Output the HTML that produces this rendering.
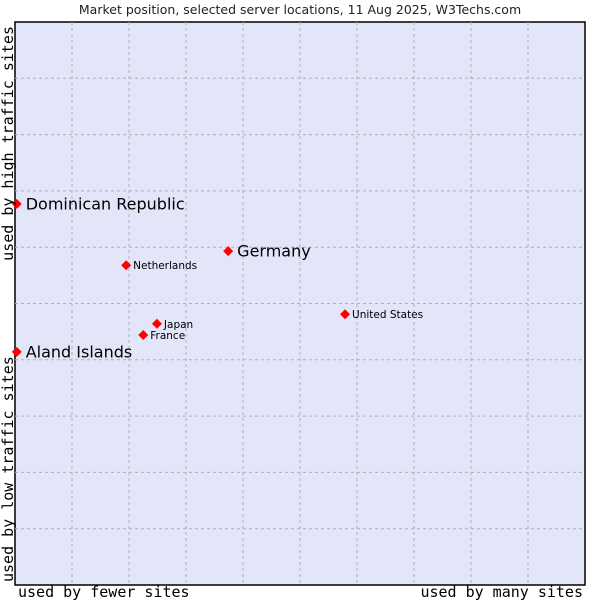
<!DOCTYPE html>
<html><head><meta charset="utf-8"><style>
body{margin:0;background:#fff;}
svg{display:block;}
</style></head><body>
<svg id="chart" width="600" height="600" xmlns="http://www.w3.org/2000/svg">
<text x="300" y="14" text-anchor="middle" font-family="DejaVu Sans, sans-serif" font-size="12.5" fill="#222">Market position, selected server locations, 11 Aug 2025, W3Techs.com</text>
<rect x="15" y="22" width="570" height="563" fill="#e3e5f8" stroke="#000" stroke-width="1.5"/>
<g id="grid"></g>
<g id="points"></g>
<text x="18" y="597" font-family="DejaVu Sans Mono, monospace" font-size="15" fill="#000">used by fewer sites</text>
<text x="583" y="597" text-anchor="end" font-family="DejaVu Sans Mono, monospace" font-size="15" fill="#000">used by many sites</text>
<text transform="translate(13,26) rotate(-90)" text-anchor="end" font-family="DejaVu Sans Mono, monospace" font-size="15" fill="#000">used by high traffic sites</text>
<text transform="translate(13,582) rotate(-90)" font-family="DejaVu Sans Mono, monospace" font-size="15" fill="#000">used by low traffic sites</text>
</svg>
<script>
const names = ["Dominican Republic","Germany","Netherlands","United States","Japan","France","Aland Islands"];
const xValues = [0.3,37.4,19.5,57.9,24.9,22.5,0.3];
const yValues = [67.7,59.3,56.8,48.1,46.4,44.4,41.4];
const bigLabel = [true,true,false,false,false,false,true];
const NS="http://www.w3.org/2000/svg";
const L=15,T=22,W=570,H=563;
const sx=v=>L+v/100*W, sy=v=>T+H-v/100*H;
const grid=document.getElementById('grid');
for(let i=1;i<10;i++){
  let a=document.createElementNS(NS,'line');
  
  
  a.setAttribute('x1',sx(i*10));a.setAttribute('x2',sx(i*10));a.setAttribute('y1',T);a.setAttribute('y2',T+H);
  a.setAttribute('stroke','#b0b0b8');a.setAttribute('stroke-dasharray','3,3');
  grid.appendChild(a);
  let b=document.createElementNS(NS,'line');
  
  
  b.setAttribute('x1',L);b.setAttribute('x2',L+W);b.setAttribute('y1',sy(i*10));b.setAttribute('y2',sy(i*10));
  b.setAttribute('stroke','#b0b0b8');b.setAttribute('stroke-dasharray','3,3');
  grid.appendChild(b);
}
const pts=document.getElementById('points');
names.forEach((n,i)=>{
  const x=sx(xValues[i]),y=sy(yValues[i]);
  const p=document.createElementNS(NS,'path');
  
  
  p.setAttribute('d',`M${x} ${y-5}L${x+5} ${y}L${x} ${y+5}L${x-5} ${y}Z`);
  p.setAttribute('fill','#f00');
  pts.appendChild(p);
  const t=document.createElementNS(NS,'text');
  
  
  t.setAttribute('x',x+(bigLabel[i]?9:7));
  t.setAttribute('y',y+(bigLabel[i]?5.5:4));
  t.setAttribute('font-family','DejaVu Sans, sans-serif');
  t.setAttribute('font-size',bigLabel[i]?'16':'10.5');
  t.setAttribute('fill','#000');
  t.textContent=n;
  pts.appendChild(t);
});
</script>
</body></html>
